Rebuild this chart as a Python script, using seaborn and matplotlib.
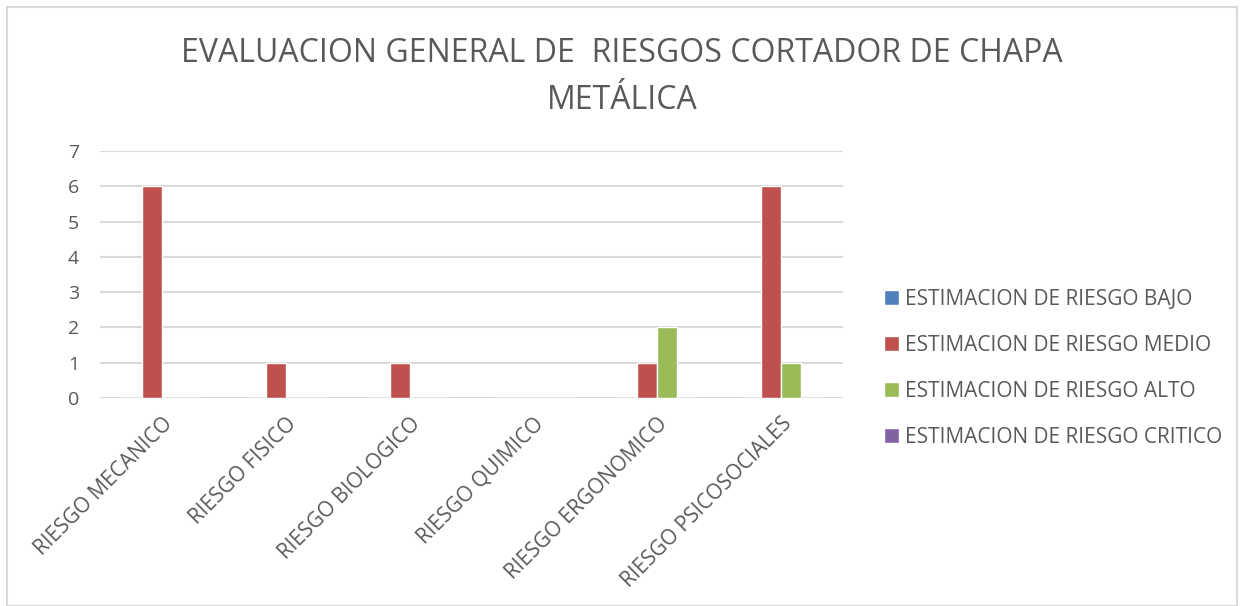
import matplotlib
matplotlib.use("Agg")
import matplotlib.pyplot as plt
import pandas as pd
import seaborn as sns
from matplotlib.patches import Rectangle

categories = ["RIESGO MECANICO", "RIESGO FISICO", "RIESGO BIOLOGICO",
              "RIESGO QUIMICO", "RIESGO ERGONOMICO", "RIESGO PSICOSOCIALES"]
series = ["ESTIMACION DE RIESGO BAJO", "ESTIMACION DE RIESGO MEDIO",
          "ESTIMACION DE RIESGO ALTO", "ESTIMACION DE RIESGO CRITICO"]
bajo = [0, 0, 0, 0, 0, 0]
medio = [6, 1, 1, 0, 1, 6]
alto = [0, 0, 0, 0, 2, 1]
critico = [0, 0, 0, 0, 0, 0]
colors = ["#4f81bd", "#c0504d", "#9bbb59", "#8064a2"]

rows = []
for name, vals in zip(series, [bajo, medio, alto, critico]):
    for cat, v in zip(categories, vals):
        rows.append({"categoria": cat, "serie": name, "valor": v})
df = pd.DataFrame(rows)

sns.set_style("white")
plt.rcParams["font.family"] = ["Open Sans", "DejaVu Sans"]
text_color = "#595959"

fig = plt.figure(figsize=(12.44, 6.06), dpi=100)
fig.patches.append(Rectangle((7 / 1244, 0), 1 - 14 / 1244, 1 - 7 / 606,
                             transform=fig.transFigure, fill=False,
                             edgecolor="#d9d9d9", linewidth=1.5))
ax = fig.add_axes([100 / 1244, (606 - 398) / 606, 743 / 1244, 247 / 606])

sns.barplot(data=df, x="categoria", y="valor", hue="serie", palette=colors,
            width=0.645, ax=ax, legend=True, saturation=1)

ax.set_ylim(0, 7)
ax.set_yticks(range(0, 8))
ax.yaxis.grid(True, color="#d9d9d9", linewidth=1.5)
ax.set_axisbelow(True)
for s in ax.spines.values():
    s.set_visible(False)
ax.set_xlabel("")
ax.set_ylabel("")
ax.tick_params(axis="both", length=0, colors=text_color)
ax.tick_params(axis="y", pad=15, labelsize=14)
ax.tick_params(axis="x", pad=11, labelsize=15)
for lab in ax.get_xticklabels():
    lab.set_rotation(45)
    lab.set_ha("right")
    lab.set_rotation_mode("anchor")

fig.text(0.5, 1 - 77 / 606, "EVALUACION GENERAL DE  RIESGOS CORTADOR DE CHAPA\nMETÁLICA",
         ha="center", va="center", fontsize=23, color=text_color, linespacing=1.55)

handles, labels = ax.get_legend_handles_labels()
ax.legend(handles, labels, loc="center left", bbox_to_anchor=(1.03, 0.12),
          frameon=False, fontsize=15, labelcolor=text_color,
          handlelength=0.7, handleheight=0.7, handletextpad=0.3,
          labelspacing=1.2)

fig.savefig("out.png", dpi=100)
